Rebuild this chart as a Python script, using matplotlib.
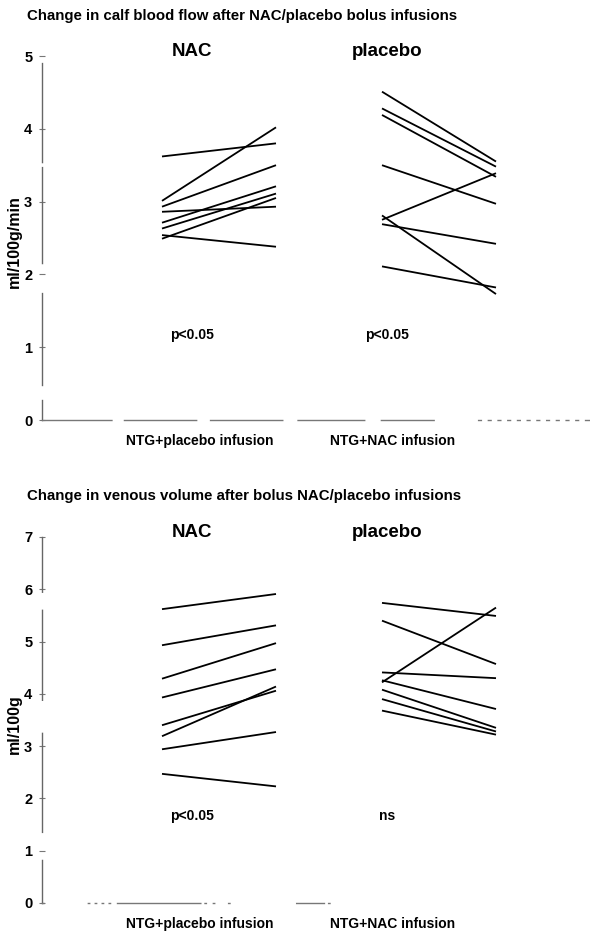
import matplotlib
matplotlib.use("Agg")
import matplotlib.pyplot as plt

plt.rcParams['font.family'] = ['Liberation Sans', 'DejaVu Sans']

# ---- data ----
# calf blood flow, ml/100g/min : (NTG+placebo, NTG+NAC)
flow_nac_before = [3.62, 3.01, 2.93, 2.86, 2.71, 2.63, 2.49, 2.54]
flow_nac_after  = [3.80, 4.02, 3.50, 2.93, 3.21, 3.11, 3.05, 2.38]
flow_pla_before = [4.51, 4.28, 4.19, 3.50, 2.75, 2.81, 2.69, 2.11]
flow_pla_after  = [3.55, 3.48, 3.34, 2.97, 3.39, 1.73, 2.42, 1.82]

# venous volume, ml/100g
vol_nac_before = [5.62, 4.93, 4.29, 3.93, 3.40, 3.19, 2.94, 2.47]
vol_nac_after  = [5.91, 5.31, 4.97, 4.47, 4.06, 4.14, 3.27, 2.23]
vol_pla_before = [5.74, 5.40, 4.41, 4.22, 4.26, 4.08, 3.90, 3.68]
vol_pla_after  = [5.49, 4.57, 4.30, 5.65, 3.71, 3.35, 3.28, 3.22]

groups = ['NAC', 'placebo']
xlabels = ['NTG+placebo infusion', 'NTG+NAC infusion']
flow_stats = ['p<0.05', 'p<0.05']
vol_stats = ['p<0.05', 'ns']

# ---- layout (x in figure pixels) ----
W, H = 590, 932
x_left = 42
x_pairs = [(162, 276), (382, 496)]
x_head = [192, 387]
x_lab = [200, 393]

# broken axis lines of the scanned original (dash patterns in points,
# agg only keeps 32 entries)
dots = (2, 5) * 11
flow_bottom_ls = (0, (50, 9, 52, 10, 52, 11, 48, 12, 38, 32) + dots)
flow_left_ls = (0, (14.4, 10.8, 66.2, 21.6, 69.1, 3.6, 71.3, 20))
vol_bottom_ls = (0, (1, 32, 1, 4, 1, 4, 1, 4, 1, 5, 60, 3, 1, 5, 1, 10, 1, 48, 20, 3, 1, 300))
vol_left_ls = (0, (31, 20.2, 71.3, 23.8, 64.8, 13, 40, 10))

fig = plt.figure(figsize=(W/100, H/100), dpi=100)

def panel(top_px, bot_px, ymax, ylab, title, nac_b, nac_a, pla_b, pla_a, stats, stat_y,
          left_ls, bottom_ls):
    ax = fig.add_axes([x_left/W, 1-bot_px/H, 1-x_left/W, (bot_px-top_px)/H])
    ax.set_xlim(x_left, W)
    ax.set_ylim(0, ymax)
    for (xb, xa), before, after in zip(x_pairs, [nac_b, pla_b], [nac_a, pla_a]):
        for b, a in zip(before, after):
            ax.plot([xb, xa], [b, a], color='black', lw=1.3, solid_capstyle='butt')
    for i in range(2):
        ax.text(x_head[i], ymax*1.012, groups[i], ha='center', va='center', fontsize=13.5,
                fontweight='bold', clip_on=False)
        ax.text(x_head[i], stat_y, stats[i], ha='center', va='center', fontsize=10,
                fontweight='bold')
    ax.set_xticks(x_lab)
    ax.set_xticklabels(xlabels, fontsize=10, fontweight='bold')
    ax.tick_params(axis='x', length=0, pad=10)
    ax.set_yticks(range(0, ymax+1))
    ax.tick_params(axis='y', direction='inout', length=4, width=0.8, color='#777777',
                   labelsize=10.5, pad=5)
    for lab in ax.get_yticklabels():
        lab.set_fontweight('bold')
    ax.set_ylabel(ylab, fontsize=11.5, fontweight='bold')
    ax.yaxis.set_label_coords(-0.0365, 0.49)
    ax.spines['top'].set_visible(False)
    ax.spines['right'].set_visible(False)
    ax.spines['left'].set_color('#666666')
    ax.spines['left'].set_linewidth(1.0)
    ax.spines['left'].set_linestyle(left_ls)
    ax.spines['bottom'].set_color('#777777')
    ax.spines['bottom'].set_linewidth(1.0)
    ax.spines['bottom'].set_linestyle(bottom_ls)
    fig.text(27/W, 1-title[1]/H, title[0], fontsize=10.8, fontweight='bold', va='center', ha='left')
    return ax

panel(56, 420, 5, 'ml/100g/min',
      ('Change in calf blood flow after NAC/placebo bolus infusions', 16),
      flow_nac_before, flow_nac_after, flow_pla_before, flow_pla_after, flow_stats, 1.17,
      flow_left_ls, flow_bottom_ls)
panel(537, 903, 7, 'ml/100g',
      ('Change in venous volume after bolus NAC/placebo infusions', 496),
      vol_nac_before, vol_nac_after, vol_pla_before, vol_pla_after, vol_stats, 1.66,
      vol_left_ls, vol_bottom_ls)

fig.savefig('out.png', dpi=100)
